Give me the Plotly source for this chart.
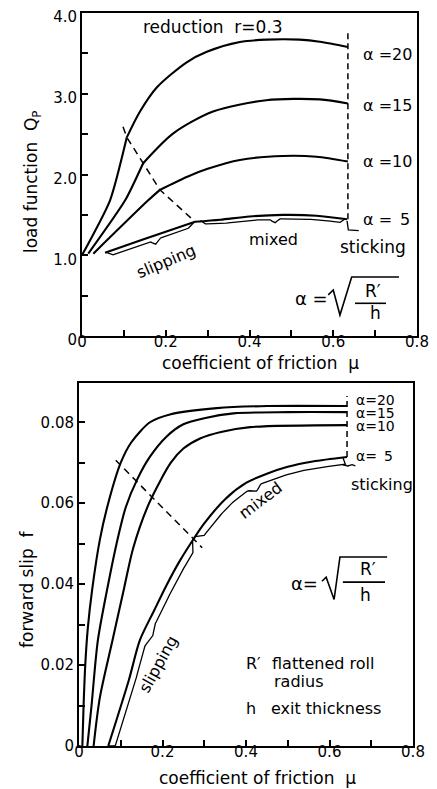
import numpy as np
import plotly.graph_objects as go

# ---------------- data ----------------
# Top: load function Q_P vs coefficient of friction mu (reduction r = 0.3)
alphas = [20, 15, 10, 5]
top_pre_mu = {
    20: [0.0, 0.067, 0.107],
    15: [0.015, 0.103, 0.146],
    10: [0.027, 0.158, 0.186],
    5: [0.055, 0.142, 0.27],
}
top_pre_q = {
    20: [1.0, 1.68, 2.46],
    15: [1.02, 1.68, 2.14],
    10: [1.02, 1.68, 1.81],
    5: [1.03, 1.19, 1.415],
}
top_post_mu = {
    20: [0.107, 0.1385, 0.179, 0.25, 0.298, 0.377, 0.441, 0.52, 0.568, 0.635],
    15: [0.146, 0.218, 0.313, 0.44, 0.568, 0.635],
    10: [0.186, 0.25, 0.30, 0.377, 0.48, 0.56, 0.635],
    5: [0.27, 0.33, 0.40, 0.48, 0.56, 0.633],
}
top_post_q = {
    20: [2.46, 2.78, 3.08, 3.39, 3.52, 3.64, 3.67, 3.67, 3.645, 3.58],
    15: [2.14, 2.51, 2.78, 2.92, 2.93, 2.88],
    10: [1.81, 1.97, 2.07, 2.18, 2.23, 2.22, 2.16],
    5: [1.415, 1.44, 1.48, 1.50, 1.49, 1.445],
}
top_boundary_start = (0.098, 2.59)
top_stick_mu = 0.635
top_stick_top = 3.76

# Bottom: forward slip f vs coefficient of friction mu
bot_mu = {
    20: [0.008, 0.011, 0.015, 0.021, 0.032, 0.05, 0.07, 0.10, 0.125, 0.17, 0.22, 0.33, 0.45, 0.642],
    15: [0.02, 0.03, 0.045, 0.068, 0.09, 0.112, 0.14, 0.17, 0.21, 0.25, 0.30, 0.37, 0.50, 0.642],
    10: [0.035, 0.05, 0.08, 0.108, 0.13, 0.168, 0.22, 0.25, 0.29, 0.34, 0.41, 0.642],
    5: [0.07, 0.09, 0.12, 0.146, 0.18, 0.21, 0.24, 0.276, 0.30, 0.35, 0.40, 0.45, 0.50, 0.56, 0.642],
}
bot_f = {
    20: [0.0, 0.010, 0.020, 0.029, 0.039, 0.051, 0.060, 0.070, 0.075, 0.080, 0.082, 0.0835, 0.084, 0.084],
    15: [0.0, 0.010, 0.026, 0.039, 0.050, 0.059, 0.066, 0.0715, 0.0765, 0.0795, 0.081, 0.0822, 0.0825, 0.0825],
    10: [0.0, 0.012, 0.026, 0.039, 0.049, 0.060, 0.070, 0.0735, 0.0760, 0.0776, 0.0788, 0.0793],
    5: [0.0, 0.0065, 0.0165, 0.0262, 0.0335, 0.0398, 0.0455, 0.0514, 0.0550, 0.0610, 0.0650,
        0.0673, 0.0690, 0.0703, 0.0714],
}
bot_boundary_mu = [0.088, 0.295]
bot_boundary_f = [0.0706, 0.049]
bot_stick_mu = 0.642
bot_stick_top = 0.0865

x_ticks = [0, 0.2, 0.4, 0.6, 0.8]
x_ticktext = ["0", "0.2", "0.4", "0.6", "0.8"]
x_minor = [0.1, 0.3, 0.5, 0.7]
top_y_ticks = [0, 1, 2, 3, 4]
top_y_ticktext = ["0", "1.0", "2.0", "3.0", "4.0"]
top_y_minor = [0.5, 1.5, 2.5, 3.5]
bot_y_ticks = [0, 0.02, 0.04, 0.06, 0.08]
bot_y_ticktext = ["0", "0.02", "0.04", "0.06", "0.08"]
bot_y_minor = [0.01, 0.03, 0.05, 0.07]

# ---------------- figure geometry ----------------
FONT = "DejaVu Sans"
W, H = 437, 789
OFF = 8  # the page body offsets the figure by this many px
ML, MT = 79 - OFF, 13 - OFF
MR = W - (417 - OFF)
MB = H - (746 - OFF)
PW, PH = W - ML - MR, H - MT - MB


def px_x(px):  # reference pixel -> paper
    return (px - OFF - ML) / PW


def px_y(py):
    return (H - MB - (py - OFF)) / PH


def smooth(xs, ys, n=12):
    """Catmull-Rom resampling of a polyline (for brace offsets)."""
    P = np.column_stack([xs, ys]).astype(float)
    P = np.vstack([2 * P[0] - P[1], P, 2 * P[-1] - P[-2]])
    out = []
    for i in range(1, len(P) - 2):
        p0, p1, p2, p3 = P[i - 1], P[i], P[i + 1], P[i + 2]
        for t in np.linspace(0, 1, n, endpoint=False):
            t2, t3 = t * t, t * t * t
            out.append(0.5 * ((2 * p1) + (-p0 + p2) * t + (2 * p0 - 5 * p1 + 4 * p2 - p3) * t2
                              + (-p0 + 3 * p1 - 3 * p2 + p3) * t3))
    out.append(P[-2])
    out = np.array(out)
    return out[:, 0], out[:, 1]


fig = go.Figure()
LW = 2.1


def add(x, y, xa, ya, **ln):
    fig.add_trace(go.Scatter(x=x, y=y, mode="lines", line=ln, xaxis=xa, yaxis=ya,
                             showlegend=False, hoverinfo="skip"))


for a in alphas:
    add(top_pre_mu[a], top_pre_q[a], "x", "y", color="black", width=LW, shape="spline", smoothing=0.6)
    add(top_post_mu[a], top_post_q[a], "x", "y", color="black", width=LW, shape="spline", smoothing=0.8)

bx = [top_boundary_start[0]] + [top_pre_mu[a][-1] for a in alphas]
by = [top_boundary_start[1]] + [top_pre_q[a][-1] for a in alphas]
add(bx, by, "x", "y", color="black", width=1.5, dash="7px,5px")
add([top_stick_mu, top_stick_mu], [top_post_q[5][-1], top_stick_top], "x", "y",
    color="black", width=1.5, dash="6px,4px")

for a in alphas:
    add(bot_mu[a], bot_f[a], "x2", "y2", color="black", width=LW, shape="spline", smoothing=0.8)
add(bot_boundary_mu, bot_boundary_f, "x2", "y2", color="black", width=1.5, dash="7px,5px")
add([bot_stick_mu, bot_stick_mu], [bot_f[5][-1], bot_stick_top], "x2", "y2",
    color="black", width=1.5, dash="6px,4px")


# ---------------- braces (derived from the alpha = 5 curves) ----------------
def brace(xs, ys, x1, x2, xc, dx, dy, cx, cy, r1, r2, cw, n=90):
    sx, sy = smooth(xs, ys)
    t = np.linspace(x1, x2, n)
    yt = np.interp(t, sx, sy)
    r = np.clip(np.minimum((t - x1) / r1, (x2 - t) / r2), 0, 1)
    c = np.clip(1 - np.abs(t - xc) / cw, 0, 1)
    return t + dx * r + cx * c, yt + dy * r + cy * c


a5x = top_pre_mu[5][:-1] + top_post_mu[5]
a5y = top_pre_q[5][:-1] + top_post_q[5]
for args in [(0.058, 0.268, 0.175, 0.0, -0.06, 0.0, -0.06, 0.015, 0.015, 0.012),
             (0.283, 0.628, 0.46, 0.0, -0.05, 0.0, -0.05, 0.012, 0.012, 0.012)]:
    bxs, bys = brace(a5x, a5y, *args)
    add(bxs, bys, "x", "y", color="black", width=1.3)
ex, ey = top_post_mu[5][-1], top_post_q[5][-1]
add([ex, ex + 0.003, ex + 0.028], [ey - 0.02, ey - 0.13, ey - 0.14], "x", "y", color="black", width=1.3)

b5x, b5y = bot_mu[5], bot_f[5]
for args in [(0.070, 0.272, 0.157, 0.013, -0.0012, 0.006, -0.0008, 0.001, 0.012, 0.012),
             (0.278, 0.632, 0.41, 0.010, -0.0016, 0.006, -0.0010, 0.012, 0.004, 0.015)]:
    bxs, bys = brace(b5x, b5y, *args)
    add(bxs, np.maximum(bys, 0), "x2", "y2", color="black", width=1.3)
fx, fy = bot_mu[5][-1], bot_f[5][-1]
add([fx - 0.01, fx + 0.002, fx + 0.012, fx + 0.02],
    [fy - 0.0019, fy - 0.0022, fy - 0.0019, fy - 0.0022], "x2", "y2", color="black", width=1.3)


# ---------------- axes ----------------
def axis(domain, rng, tickvals, ticktext, minor, anchor, standoff, shift=0):
    return dict(domain=domain, range=rng, anchor=anchor, showline=True, mirror=True,
                linecolor="black", linewidth=2, ticks="inside", ticklen=6, tickwidth=1.5,
                tickcolor="black", tickvals=tickvals, ticktext=ticktext,
                minor=dict(tickvals=minor, ticks="inside", ticklen=6, tickwidth=1.5,
                           tickcolor="black", showgrid=False),
                showgrid=False, zeroline=False, automargin=False,
                ticklabelstandoff=standoff, ticklabelshift=shift, ticklabeloverflow="allow",
                tickfont=dict(family=FONT, size=15, color="black"))


fig.update_layout(
    width=W, height=H, margin=dict(l=ML, r=MR, t=MT, b=MB, autoexpand=False),
    paper_bgcolor="white", plot_bgcolor="white", showlegend=False,
    xaxis=axis([px_x(82), px_x(417)], [0, 0.8], x_ticks, x_ticktext, x_minor, "y", -9),
    yaxis=axis([px_y(336), px_y(13)], [0, 4.0], top_y_ticks, top_y_ticktext, top_y_minor, "x", 0, 4),
    xaxis2=axis([px_x(79), px_x(413)], [0, 0.8], x_ticks, x_ticktext, x_minor, "y2", -9),
    yaxis2=axis([px_y(746), px_y(383)], [0, 0.0897], bot_y_ticks, bot_y_ticktext, bot_y_minor, "x2", 0),
)

ann = []


def txt(text, x, y, xref, yref, size=17, xanchor="center", angle=0):
    ann.append(dict(text=text, x=x, y=y, xref=xref, yref=yref, showarrow=False,
                    xanchor=xanchor, yanchor="middle", textangle=angle,
                    borderpad=0, font=dict(family=FONT, size=size, color="black")))


# axis titles
txt("coefficient of friction  μ", px_x(260), px_y(363), "paper", "paper", 17)
txt("coefficient of friction  μ", px_x(257), px_y(778), "paper", "paper", 17)
txt("load function  Q<sub>P</sub>", px_x(33), px_y(182), "paper", "paper", 17, angle=-90)
txt("forward slip  f", px_x(27), px_y(590), "paper", "paper", 17, angle=-90)

# top plot texts
txt("reduction  r=0.3", 0.313, 3.83, "x", "y", 17)
for a, yv in zip(alphas, [3.48, 2.86, 2.16, 1.445]):
    txt("α =" + ("%2d" % a).replace(" ", "\u2002"), 0.668, yv, "x", "y", 16, xanchor="left")
txt("mixed", 0.457, 1.19, "x", "y", 16)
txt("sticking", 0.694, 1.106, "x", "y", 17)
txt("slipping", 0.20, 0.92, "x", "y", 16, angle=-23)
txt("α =", 0.549, 0.47, "x", "y", 18)
txt("R′", 0.696, 0.56, "x", "y", 17)
txt("h", 0.70, 0.29, "x", "y", 17)

# bottom plot texts
for a, yv in zip(alphas, [0.0855, 0.0822, 0.0791, 0.0716]):
    txt("α=" + ("%2d" % a).replace(" ", "\u2002"), 0.661, yv, "x2", "y2", 14, xanchor="left")
txt("sticking", 0.725, 0.0646, "x2", "y2", 16)
txt("mixed", 0.434, 0.0607, "x2", "y2", 16, angle=-37)
txt("slipping", 0.189, 0.0202, "x2", "y2", 16, angle=-61)
txt("α=", 0.539, 0.0402, "x2", "y2", 18)
txt("R′", 0.692, 0.0437, "x2", "y2", 17)
txt("h", 0.687, 0.0373, "x2", "y2", 17)
txt("R′", 0.398, 0.0203, "x2", "y2", 16, xanchor="left")
txt("flattened roll", 0.461, 0.0203, "x2", "y2", 16, xanchor="left")
txt("radius", 0.465, 0.0160, "x2", "y2", 16, xanchor="left")
txt("h", 0.398, 0.0093, "x2", "y2", 16, xanchor="left")
txt("exit thickness", 0.457, 0.0093, "x2", "y2", 16, xanchor="left")

fig.update_layout(annotations=ann)

# radical signs and fraction bars of  alpha = sqrt(R'/h)
shapes = [
    dict(type="path", xref="x", yref="y",
         path="M0.588,0.51 L0.600,0.57 L0.616,0.26 L0.644,0.73 L0.757,0.73",
         line=dict(color="black", width=1.6)),
    dict(type="line", xref="x", yref="y", x0=0.652, x1=0.726, y0=0.405, y1=0.405,
         line=dict(color="black", width=1.6)),
    dict(type="path", xref="x2", yref="y2",
         path="M0.582,0.0407 L0.592,0.0417 L0.611,0.0362 L0.625,0.0467 L0.738,0.0467",
         line=dict(color="black", width=1.6)),
    dict(type="line", xref="x2", yref="y2", x0=0.632, x1=0.733, y0=0.0405, y1=0.0405,
         line=dict(color="black", width=1.6)),
]
fig.update_layout(shapes=shapes)

fig.write_html("out.html")
